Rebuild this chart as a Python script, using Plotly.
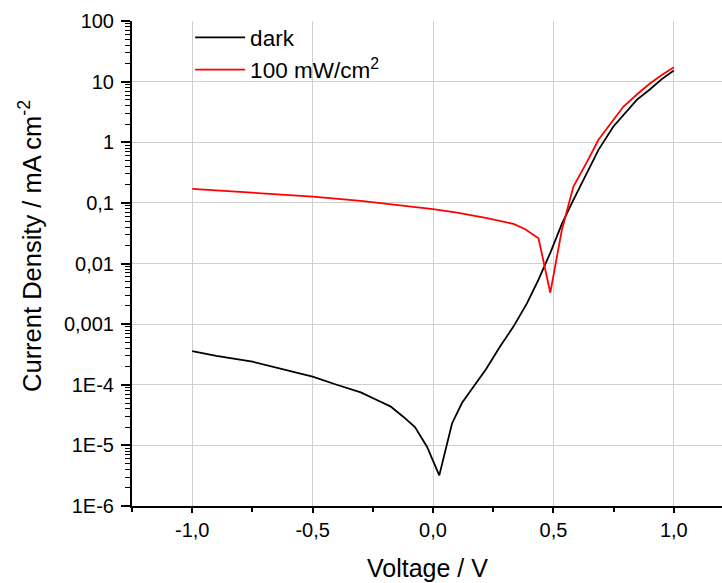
import plotly.graph_objects as go

# Dark J-V curve
dark_v = [-1.0, -0.9, -0.75, -0.6, -0.5, -0.4, -0.3, -0.22, -0.177, -0.125, -0.075, -0.025,
          0.026, 0.079, 0.12, 0.168, 0.22, 0.279, 0.334, 0.39, 0.438, 0.487, 0.535, 0.583,
          0.64, 0.687, 0.749, 0.8, 0.846, 0.9, 0.95, 1.0]
dark_j = [3.6e-4, 3.0e-4, 2.4e-4, 1.7e-4, 1.36e-4, 1.0e-4, 7.5e-5, 5.3e-5, 4.4e-5, 3.0e-5, 2.0e-5, 9.5e-6,
          3.2e-6, 2.3e-5, 5.0e-5, 9.3e-5, 1.8e-4, 4.3e-4, 9.1e-4, 2.2e-3, 5.4e-3, 0.015, 0.045, 0.112,
          0.32, 0.75, 1.82, 3.1, 5.0, 7.4, 11.0, 15.2]

# Illuminated (100 mW/cm2) J-V curve
light_v = [-1.0, -0.75, -0.5, -0.3, -0.22, -0.1, 0.0, 0.1, 0.224, 0.334, 0.383, 0.438, 0.487,
           0.535, 0.583, 0.64, 0.687, 0.74, 0.791, 0.85, 0.902, 0.95, 1.0]
light_j = [0.17, 0.147, 0.127, 0.108, 0.099, 0.089, 0.0787, 0.069, 0.056, 0.045, 0.0368, 0.0261, 0.0033,
           0.0358, 0.186, 0.48, 1.1, 2.1, 3.88, 6.3, 9.4, 12.9, 17.3]

y_tickvals = [1e-6, 1e-5, 1e-4, 1e-3, 1e-2, 1e-1, 1, 10, 100]
y_ticktext = ["1E-6", "1E-5", "1E-4", "0,001", "0,01", "0,1", "1", "10", "100"]
x_tickvals = [-1.0, -0.5, 0.0, 0.5, 1.0]
x_ticktext = ["-1,0", "-0,5", "0,0", "0,5", "1,0"]

FONT = "Liberation Sans, Arial, sans-serif"

fig = go.Figure()
fig.add_trace(go.Scatter(x=dark_v, y=dark_j, mode="lines", name="dark",
                         line=dict(color="black", width=1.8)))
fig.add_trace(go.Scatter(x=light_v, y=light_j, mode="lines", name="100 mW/cm<sup>2</sup>",
                         line=dict(color="#ff0000", width=1.8)))

fig.update_layout(
    width=722, height=583,
    margin=dict(l=132, r=0, t=21, b=77),
    paper_bgcolor="white", plot_bgcolor="white",
    font=dict(family=FONT, color="black"),
    showlegend=True,
    legend=dict(x=0.0985, y=1.01, xanchor="left", yanchor="top", itemwidth=50,
                bgcolor="rgba(0,0,0,0)", font=dict(size=22.5, family=FONT)),
    xaxis=dict(
        range=[-1.25, 1.2], tickvals=x_tickvals, ticktext=x_ticktext,
        showline=True, linecolor="black", linewidth=2,
        ticks="outside", ticklen=5, tickwidth=1.5, tickcolor="black",
        minor=dict(ticks="outside", dtick=0.25, tick0=-1.25, ticklen=4, tickwidth=1.5, tickcolor="black", showgrid=False),
        showgrid=True, gridcolor="#cfcfcf", gridwidth=1,
        zeroline=False,
        tickfont=dict(size=20, family=FONT),
    ),
    yaxis=dict(
        type="log", range=[-6, 2], tickvals=y_tickvals, ticktext=y_ticktext,
        showline=True, linecolor="black", linewidth=2,
        ticks="outside", ticklen=9, tickwidth=1.5, tickcolor="black",
        minor=dict(ticks="outside", dtick="D1", ticklen=5, tickwidth=1, tickcolor="black", showgrid=False),
        showgrid=True, gridcolor="#cfcfcf", gridwidth=1,
        zeroline=False, ticklabelstandoff=3,
        tickfont=dict(size=20, family=FONT),
    ),
    annotations=[
        dict(text="Voltage / V", xref="paper", yref="paper", x=0.5, y=-0.128,
             xanchor="center", yanchor="middle", showarrow=False,
             font=dict(size=25, family=FONT)),
        dict(text="Current Density / mA cm<sup>-2</sup>", xref="paper", yref="paper",
             x=-0.173, y=0.536, xanchor="center", yanchor="middle", textangle=-90,
             showarrow=False, font=dict(size=25.5, family=FONT)),
    ],
)

fig.write_html("out.html")
